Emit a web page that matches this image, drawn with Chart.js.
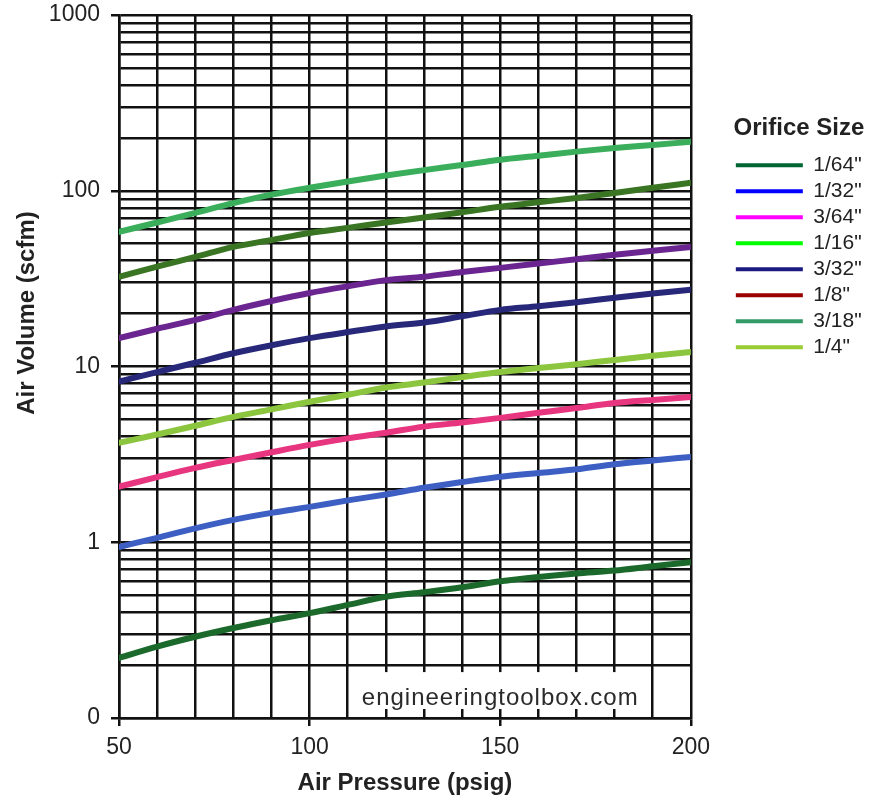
<!DOCTYPE html>
<html>
<head>
<meta charset="utf-8">
<title>Air Volume vs Air Pressure</title>
<script src="https://cdn.jsdelivr.net/npm/chart.js@4.4.1/dist/chart.umd.min.js"></script>
<style>
    body { margin: 0; background: #fff; }
    #wrap { width: 871px; height: 799px; }
</style>
</head>
<body>
<div id="wrap"><canvas id="airChart" width="871" height="799"></canvas></div>
<script>
// Data
const pressures = [50, 60, 70, 80, 90, 100, 110, 120, 130, 140, 150, 160, 170, 180, 190, 200];

const sizes = ['1/64"', '1/32"', '3/64"', '1/16"', '3/32"', '1/8"', '3/18"', '1/4"'];

const flow1_64 = [0.22, 0.255, 0.29, 0.325, 0.36, 0.395, 0.44, 0.49, 0.52, 0.555, 0.60, 0.635, 0.665, 0.69, 0.73, 0.77];
const flow1_32 = [0.94, 1.06, 1.2, 1.34, 1.47, 1.59, 1.73, 1.87, 2.04, 2.2, 2.36, 2.48, 2.6, 2.78, 2.92, 3.06];
const flow3_64 = [2.07, 2.35, 2.65, 2.94, 3.25, 3.58, 3.9, 4.2, 4.55, 4.8, 5.1, 5.45, 5.8, 6.2, 6.45, 6.7];
const flow1_16 = [3.68, 4.1, 4.6, 5.17, 5.7, 6.3, 6.9, 7.6, 8.1, 8.7, 9.3, 9.8, 10.3, 10.9, 11.5, 12.1];
const flow3_32 = [8.2, 9.3, 10.5, 11.9, 13.2, 14.5, 15.7, 16.9, 17.8, 19.3, 21.0, 22.0, 23.2, 24.6, 26, 27.3];
const flow1_8  = [14.5, 16.4, 18.4, 21.0, 23.6, 26.2, 28.6, 31.0, 32.4, 34.5, 36.4, 38.5, 40.8, 43.2, 45.5, 47.9];
const flow3_18 = [32.4, 37, 42, 47.9, 52.5, 57.5, 61.5, 66, 70.5, 75.5, 81, 86, 91, 97, 104, 111];
const flow1_4  = [58.3, 66, 74.8, 85, 95, 104, 113, 122, 131, 140, 150, 158, 167, 175, 182, 190];

const flows = [flow1_64, flow1_32, flow3_64, flow1_16, flow3_32, flow1_8, flow3_18, flow1_4];

// y grid lines (log paper) and labelled decades
const yTicks = [0.1, 0.2, 0.3, 0.4, 0.5, 0.6, 0.7, 0.8, 0.9,
                1, 2, 3, 4, 5, 6, 7, 8, 9,
                10, 20, 30, 40, 50, 60, 70, 80, 90,
                100, 200, 300, 400, 500, 600, 700, 800, 900, 1000];
const yLabels = { 1000: '1000', 100: '100', 10: '10', 1: '1', 0.1: '0' };
const xLabels = [50, 100, 150, 200];

// colours of the drawn curves and of the legend swatches
const lineColors = ['#1b6a2c', '#3d5fc4', '#e8357f', '#8cc63e', '#28287a', '#6b2590', '#3a7524', '#3bae5c'];
const legendColors = ['#006633', '#0000ff', '#ff00ff', '#00ff00', '#1a1a80', '#990000', '#339966', '#99cc33'];

const gridColor = '#111';
const textColor = '#222';
const fontFamily = "'Liberation Sans', Arial, sans-serif";

// y title and watermark are placed by hand
const extrasPlugin = {
    id: 'extras',
    beforeDatasetsDraw(chart) {
        const { ctx } = chart;
        const x = chart.scales.x;
        const y = chart.scales.y;
        // white box behind the watermark
        const left = x.getPixelForValue(110) + 2;
        const right = x.getPixelForValue(190) - 2;
        const top = y.getPixelForValue(0.2) + 7;
        const bottom = y.getPixelForValue(0.1) - 9;
        ctx.save();
        ctx.fillStyle = '#fff';
        ctx.fillRect(left, top, right - left, bottom - top);
        ctx.font = '24px ' + fontFamily;
        ctx.letterSpacing = '1px';
        ctx.fillStyle = '#2a2a2a';
        ctx.textAlign = 'center';
        ctx.textBaseline = 'alphabetic';
        ctx.fillText('engineeringtoolbox.com', (left + right) / 2, bottom - 4);
        ctx.restore();
    },
    afterDraw(chart) {
        const { ctx } = chart;
        ctx.save();
        ctx.translate(34, 313);
        ctx.rotate(-Math.PI / 2);
        ctx.font = 'bold 24px ' + fontFamily;
        ctx.fillStyle = textColor;
        ctx.textAlign = 'center';
        ctx.textBaseline = 'alphabetic';
        ctx.fillText('Air Volume (scfm)', 0, 0);
        ctx.restore();
    }
};

const datasets = sizes.map((size, i) => ({
    label: size,
    data: pressures.map((p, j) => ({ x: p, y: flows[i][j] })),
    borderColor: lineColors[i],
    backgroundColor: lineColors[i],
    borderWidth: 6,
    borderCapStyle: 'round',
    pointRadius: 0,
    cubicInterpolationMode: 'monotone',
    fill: false
}));

const ctx = document.getElementById('airChart').getContext('2d');
const chart = new Chart(ctx, {
    type: 'line',
    data: { datasets: datasets },
    options: {
        responsive: false,
        animation: false,
        layout: { padding: { top: 15, left: 50, right: 4, bottom: 0 } },
        plugins: {
            tooltip: { enabled: false },
            legend: {
                position: 'right',
                align: 'start',
                title: {
                    display: true,
                    text: 'Orifice Size',
                    position: 'center',
                    color: textColor,
                    font: { family: fontFamily, size: 24, weight: 'bold' },
                    padding: { top: 101, bottom: 5 }
                },
                labels: {
                    boxWidth: 67,
                    boxHeight: 4,
                    padding: 5,
                    color: textColor,
                    font: { family: fontFamily, size: 21 },
                    generateLabels: (c) => c.data.datasets.map((ds, i) => ({
                        text: ds.label,
                        fillStyle: legendColors[i],
                        strokeStyle: legendColors[i],
                        lineWidth: 0,
                        hidden: false,
                        datasetIndex: i,
                        fontColor: textColor
                    }))
                }
            }
        },
        scales: {
            x: {
                type: 'linear',
                min: 50,
                max: 200,
                ticks: {
                    stepSize: 10,
                    autoSkip: false,
                    maxRotation: 0,
                    padding: 8,
                    color: textColor,
                    font: { family: fontFamily, size: 23 },
                    callback: (v) => xLabels.includes(v) ? String(v) : ''
                },
                grid: {
                    color: gridColor,
                    lineWidth: 2.5,
                    tickLength: 8,
                    tickColor: (c) => (c.tick && xLabels.includes(c.tick.value)) ? gridColor : 'rgba(0,0,0,0)'
                },
                border: { color: gridColor, width: 2.5 },
                title: {
                    display: true,
                    text: 'Air Pressure (psig)',
                    color: textColor,
                    font: { family: fontFamily, size: 24, weight: 'bold' },
                    padding: { top: 0, bottom: 1 }
                },
                afterFit: (s) => { s.height = 81; }
            },
            y: {
                type: 'logarithmic',
                min: 0.1,
                max: 1000,
                afterBuildTicks: (s) => { s.ticks = yTicks.map(v => ({ value: v })); },
                ticks: {
                    autoSkip: false,
                    padding: 11,
                    color: textColor,
                    font: { family: fontFamily, size: 23 },
                    callback: (v) => yLabels[v] !== undefined ? yLabels[v] : ''
                },
                grid: {
                    color: gridColor,
                    lineWidth: 2.5,
                    tickLength: 8,
                    tickColor: (c) => (c.tick && yLabels[c.tick.value] !== undefined) ? gridColor : 'rgba(0,0,0,0)'
                },
                border: { color: gridColor, width: 2.5 },
                afterFit: (s) => {
                    s.width = 69;
                    s.paddingTop = 0;
                    s.paddingBottom = 0;
                }
            },
            // empty spacer between plot and legend
            gap: {
                type: 'linear',
                position: 'right',
                display: true,
                grid: { display: false },
                border: { display: false },
                ticks: { display: false },
                afterFit: (s) => { s.width = 40; }
            }
        }
    },
    plugins: [extrasPlugin]
});
</script>
</body>
</html>
